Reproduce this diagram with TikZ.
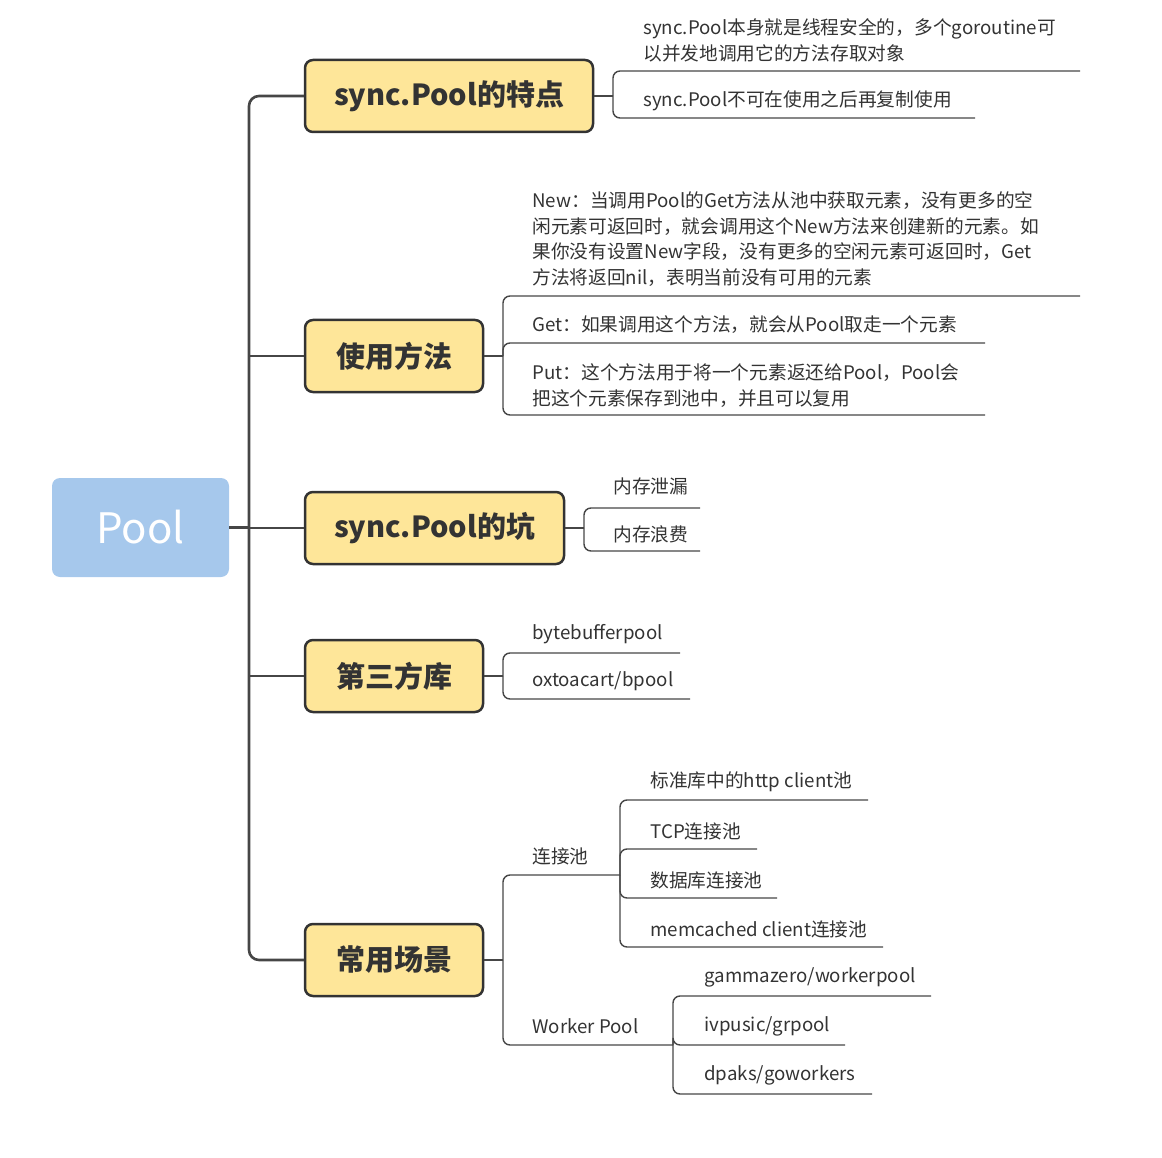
\documentclass[tikz,border=0pt]{standalone}
\usepackage{fontspec}
\setmainfont{Noto Sans CJK SC}
\usepackage{tikz}
\definecolor{poolblue}{RGB}{166,200,236}
\definecolor{topicyellow}{RGB}{254,230,153}
\definecolor{inkgray}{RGB}{51,51,51}
\definecolor{linegray}{RGB}{70,70,70}
\tikzset{every picture/.style={line width=0.75pt}}
\tikzset{
  rootbox/.style={fill=poolblue, rounded corners=8pt, text=white, inner sep=0pt,
    font=\fontsize{42}{46}\selectfont},
  topicbox/.style={draw=inkgray, line width=2.5pt, fill=topicyellow, rounded corners=8pt,
    text=inkgray, inner sep=0pt, minimum height=72pt, font=\fontsize{29}{32}\selectfont\bfseries},
  leaf/.style={anchor=west, inner sep=0pt, text=inkgray, align=left,
    font=\fontsize{18.7}{25.4}\selectfont},
  trunk/.style={draw=linegray, line width=2.6pt, rounded corners=10pt},
  twig/.style={draw=linegray, line width=1.4pt, rounded corners=7pt}
}

\begin{document}
\begin{tikzpicture}[x=1pt,y=-1pt]
\useasboundingbox (0,0) rectangle (1162,1158);

%Root
\node[rootbox, minimum width=177pt, minimum height=99pt] (pool) at (140.5,527.5) {Pool};

%Topics
\node[topicbox, minimum width=288pt] (tedian) at (449,96) {sync.Pool的特点};
\node[topicbox, minimum width=178pt] (fangfa) at (394,356) {使用方法};
\node[topicbox, minimum width=259pt] (keng) at (434.5,528) {sync.Pool的坑};
\node[topicbox, minimum width=178pt] (sanfang) at (394,676) {第三方库};
\node[topicbox, minimum width=178pt] (changjing) at (394,960) {常用场景};

%Trunk
\coordinate (trunk) at (249,527.5);
\draw[trunk] (pool.east) -- (pool.east -| trunk);
\draw[trunk] (tedian.west) -| (trunk) |- (changjing.west);
\draw[trunk] (fangfa.west) -- (fangfa.west -| trunk);
\draw[trunk] (keng.west) -- (keng.west -| trunk);
\draw[trunk] (sanfang.west) -- (sanfang.west -| trunk);

%Joints and underline ends
\coordinate (j1) at (613,96);
\coordinate (j2) at (503,356);
\coordinate (j3) at (584,528);
\coordinate (j4) at (503,676);
\coordinate (j5) at (503,960);
\coordinate (u1a) at (1080,71);  \coordinate (u1b) at (975,118);
\coordinate (u2a) at (1080,296); \coordinate (u2b) at (985,343); \coordinate (u2c) at (985,415);
\coordinate (u3a) at (700,508);  \coordinate (u3b) at (700,551);
\coordinate (u4a) at (680,653);  \coordinate (u4b) at (690,699);
\coordinate (lianjie) at (620,875); \coordinate (worker) at (673,1045);
\coordinate (u51a) at (868,800); \coordinate (u51b) at (757,849);
\coordinate (u51c) at (777,898); \coordinate (u51d) at (883,947);
\coordinate (u52a) at (931,996); \coordinate (u52b) at (845,1045); \coordinate (u52c) at (872,1094);

%Twigs
\draw[twig] (tedian.east) -- (j1);
\draw[twig] (fangfa.east) -- (j2);
\draw[twig] (keng.east) -- (j3);
\draw[twig] (sanfang.east) -- (j4);
\draw[twig] (changjing.east) -- (j5);
\foreach \u in {u1a,u1b} \draw[twig] (j1) |- (\u);
\foreach \u in {u2a,u2b,u2c} \draw[twig] (j2) |- (\u);
\foreach \u in {u3a,u3b} \draw[twig] (j3) |- (\u);
\foreach \u in {u4a,u4b} \draw[twig] (j4) |- (\u);
\foreach \u in {lianjie,worker} \draw[twig] (j5) |- (\u);
\foreach \u in {u51a,u51b,u51c,u51d} \draw[twig] (lianjie) |- (\u);
\foreach \u in {u52a,u52b,u52c} \draw[twig] (worker) |- (\u);

%Leaves
\node[leaf] (t1a) at (643,40.5) {sync.Pool本身就是线程安全的，多个goroutine可\\以并发地调用它的方法存取对象};
\node[leaf] (t1b) at (643,101) {sync.Pool不可在使用之后再复制使用};
\node[leaf] (t2a) at (532,239) {New：当调用Pool的Get方法从池中获取元素，没有更多的空\\闲元素可返回时，就会调用这个New方法来创建新的元素。如\\果你没有设置New字段，没有更多的空闲元素可返回时，Get\\方法将返回nil，表明当前没有可用的元素};
\node[leaf] (t2b) at (532,325) {Get：如果调用这个方法，就会从Pool取走一个元素};
\node[leaf] (t2c) at (532,385.5) {Put：这个方法用于将一个元素返还给Pool，Pool会\\把这个元素保存到池中，并且可以复用};
\node[leaf] (t3a) at (613,486) {内存泄漏};
\node[leaf] (t3b) at (613,534) {内存浪费};
\node[leaf] (t4a) at (532,634) {bytebufferpool};
\node[leaf] (t4b) at (532,681) {oxtoacart/bpool};
\node[leaf] (t5a) at (532,856) {连接池};
\node[leaf] (t5b) at (532,1026) {Worker Pool};
\node[leaf] (t51a) at (650,782) {标准库中的http client池};
\node[leaf] (t51b) at (650,831) {TCP连接池};
\node[leaf] (t51c) at (650,880) {数据库连接池};
\node[leaf] (t51d) at (650,929) {memcached client连接池};
\node[leaf] (t52a) at (704,977) {gammazero/workerpool};
\node[leaf] (t52b) at (704,1026) {ivpusic/grpool};
\node[leaf] (t52c) at (704,1075) {dpaks/goworkers};
\end{tikzpicture}
\end{document}
